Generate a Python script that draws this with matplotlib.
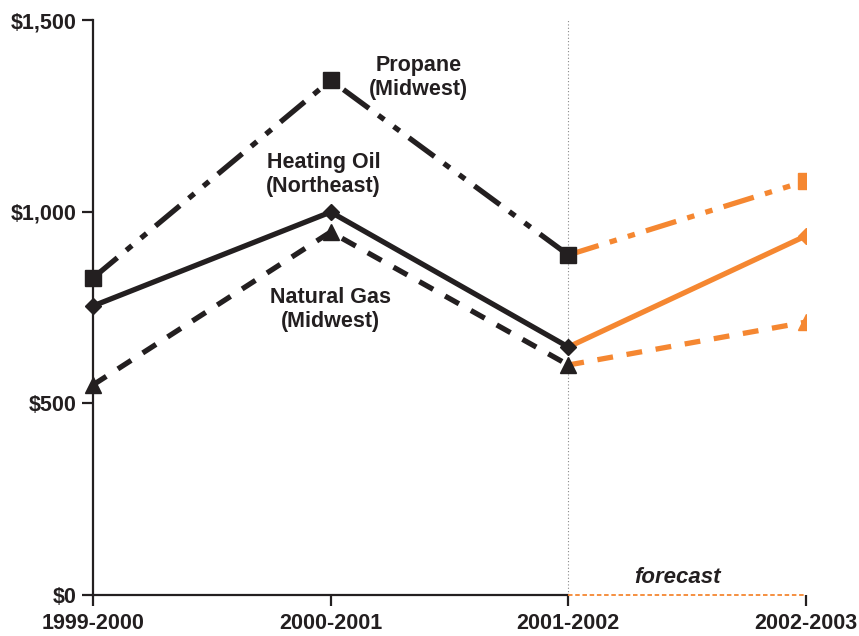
import matplotlib.pyplot as plt

plt.rcParams['font.family'] = ['Liberation Sans', 'DejaVu Sans']

# winter fuel expenditures, dollars
seasons = ["1999-2000", "2000-2001", "2001-2002", "2002-2003"]
propane = [827, 1343, 887, 1080]
heating_oil = [754, 999, 647, 937]
natural_gas = [548, 947, 600, 712]

black = '#231f20'
orange = '#f58731'

fig = plt.figure(figsize=(8.59, 6.36), dpi=100)
ax = fig.add_axes([93 / 859, 1 - 595 / 636, (806 - 93) / 859, (595 - 20) / 636])

x = list(range(len(seasons)))
hist = slice(0, 3)
fore = slice(2, 4)

styles = [
    (propane, (0, (6, 2.2, 1.4, 2.2, 1.4, 2.2)), 's', 12),
    (heating_oil, '-', 'D', 8),
    (natural_gas, (0, (3, 2.6)), '^', 12),
]

for vals, ls, mk, ms in styles:
    # forecast part first, so the black markers sit on top
    ax.plot(x[fore], vals[fore], color=orange, lw=3.8, linestyle=ls,
            marker=mk, markersize=ms, markevery=[1], zorder=2)
    ax.plot(x[hist], vals[hist], color=black, lw=3.8, linestyle=ls,
            marker=mk, markersize=ms, zorder=3, clip_on=False)

# divider between actual and forecast
ax.axvline(2, color='#888888', lw=0.8, linestyle=(0, (1, 2)), zorder=1)

ax.set_xlim(0, 3)
ax.set_ylim(0, 1500)
ax.set_yticks([0, 500, 1000, 1500])
ax.set_yticklabels(['$0', '$500', '$1,000', '$1,500'])
ax.set_xticks(x)
ax.set_xticklabels(seasons)

for s in ['top', 'right']:
    ax.spines[s].set_visible(False)
ax.spines['left'].set_linewidth(1.6)
ax.spines['left'].set_color(black)
ax.spines['bottom'].set_linewidth(1.6)
ax.spines['bottom'].set_color(black)
ax.spines['bottom'].set_bounds(0, 2)
ax.plot([2, 3], [0, 0], color=orange, lw=1.3, linestyle=(0, (2.5, 1.5)),
        clip_on=False, zorder=4)

ax.tick_params(axis='both', direction='out', length=8, width=1.6, color=black,
               labelsize=15.5, labelcolor=black)
ax.tick_params(axis='x', pad=5)
ax.tick_params(axis='y', pad=4)
for lab in ax.get_xticklabels() + ax.get_yticklabels():
    lab.set_fontweight('bold')

txt = dict(ha='center', va='center', fontsize=15.5, fontweight='bold', color=black,
           linespacing=1.2)
ax.text(1.37, 1350, "Propane\n(Midwest)", **txt)
ax.text(0.97, 1097, "Heating Oil\n(Northeast)", **txt)
ax.text(1.0, 745, "Natural Gas\n(Midwest)", **txt)
ax.text(2.46, 45, "forecast", ha='center', va='center', fontsize=16,
        fontweight='bold', fontstyle='italic', color=black)

fig.savefig('out.png', dpi=100)
